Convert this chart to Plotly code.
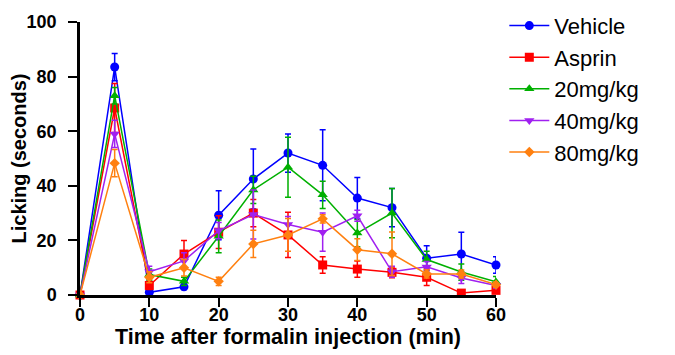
import plotly.graph_objects as go

time = [0, 5, 10, 15, 20, 25, 30, 35, 40, 45, 50, 55, 60]

vehicle = [0, 83.5, 1.0, 3.0, 29.2, 42.5, 52.0, 47.5, 35.5, 32.0, 13.5, 15.0, 11.0]
vehicle_err = [0, 5.0, 1.0, 1.0, 9.0, 11.0, 7.0, 13.0, 7.5, 7.0, 4.5, 8.0, 3.0]

asprin = [0, 68.5, 3.5, 15.0, 23.0, 30.0, 22.0, 11.0, 9.5, 8.3, 6.5, 0.7, 1.7]
asprin_err = [0, 9.0, 1.5, 5.0, 6.0, 5.0, 8.3, 3.0, 3.0, 2.0, 3.0, 0.5, 1.0]

mg20 = [0, 73.0, 7.5, 5.0, 21.5, 38.5, 46.8, 36.7, 22.7, 30.0, 13.0, 8.4, 4.8]
mg20_err = [0, 3.0, 2.0, 1.5, 6.0, 5.0, 11.0, 5.0, 5.0, 9.0, 3.0, 3.0, 2.0]

mg40 = [0, 59.0, 8.5, 12.5, 23.6, 29.5, 25.8, 23.0, 29.0, 8.5, 10.3, 6.2, 3.5]
mg40_err = [0, 5.0, 2.0, 3.0, 3.0, 9.0, 3.0, 7.0, 2.0, 2.0, 2.0, 2.0, 1.0]

mg80 = [0, 48.3, 6.5, 10.0, 5.0, 18.7, 22.0, 27.9, 16.6, 15.1, 7.7, 7.7, 3.8]
mg80_err = [0, 5.0, 2.0, 3.0, 1.5, 5.0, 6.0, 1.5, 4.0, 8.0, 1.5, 1.5, 1.0]

series = [
    ("Vehicle", vehicle, vehicle_err, "#0000FF", "circle", 9),
    ("Asprin", asprin, asprin_err, "#FF0000", "square", 9),
    ("20mg/kg", mg20, mg20_err, "#00B000", "triangle-up", 9),
    ("40mg/kg", mg40, mg40_err, "#A020F0", "triangle-down", 9),
    ("80mg/kg", mg80, mg80_err, "#FF8010", "diamond", 8),
]

fig = go.Figure()
for i, (name, y, err, col, sym, sz) in enumerate(series):
    fig.add_trace(go.Scatter(
        x=time, y=y, name=name, mode="lines+markers",
        line=dict(color=col, width=1.5),
        marker=dict(color=col, symbol=sym, size=sz, line=dict(width=0)),
        error_y=dict(type="data", array=err, visible=True, color=col,
                     thickness=1.5, width=3),
        cliponaxis=False,
        legendgroup=f"g{i}",
    ))

font_family = "Liberation Sans, Arial, sans-serif"
fig.update_layout(
    width=675, height=355,
    margin=dict(l=72, r=187, t=14, b=68, autoexpand=False),
    paper_bgcolor="white", plot_bgcolor="white",
    font=dict(family=font_family, color="black"),
    showlegend=True,
    legend=dict(x=1.02, y=1.063, xanchor="left", yanchor="top",
                font=dict(size=22, color="black"),
                tracegroupgap=0, itemwidth=40, bgcolor="rgba(0,0,0,0)"),
    xaxis=dict(
        range=[0, 60], tickvals=[0, 10, 20, 30, 40, 50, 60],
        showline=True, linecolor="black", linewidth=2.5,
        ticks="outside", tickcolor="black", ticklen=9, tickwidth=2,
        showgrid=False, zeroline=False, ticklabelstandoff=-7, automargin=False,
        tickfont=dict(size=18, family=font_family, weight="bold"),
        title=dict(text="<b>Time after formalin injection (min)</b>",
                   font=dict(size=21.5), standoff=0),
    ),
    yaxis=dict(
        range=[0, 100], tickvals=[0, 20, 40, 60, 80, 100],
        showline=True, linecolor="black", linewidth=2.5,
        ticks="outside", tickcolor="black", ticklen=9, tickwidth=2,
        showgrid=False, zeroline=False, ticklabelstandoff=8, automargin=False,
        tickfont=dict(size=18, family=font_family, weight="bold"),
        title=dict(text="<b>Licking (seconds)</b>", font=dict(size=20), standoff=0),
    ),
)

fig.write_html("out.html")
